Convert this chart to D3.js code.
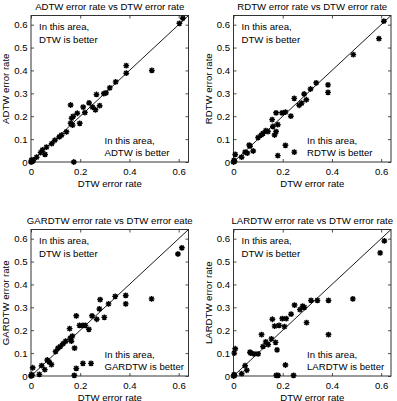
<!DOCTYPE html>
<html><head><meta charset="utf-8">
<script src="https://cdn.jsdelivr.net/npm/d3@7"></script>
<style>body{margin:0;background:#fff}svg{display:block}text{font-family:"Liberation Sans",Arial,sans-serif;fill:#000}</style>
</head><body>
<script>
// ---- data ----
const xTicks = [0, 0.2, 0.4, 0.6];
const yTicks = [0, 0.1, 0.2, 0.3, 0.4, 0.5, 0.6];
const titles = ["ADTW error rate vs DTW error rate","RDTW error rate vs DTW error rate","GARDTW error rate vs DTW error eate","LARDTW error rate vs DTW error rate"];
const yLabels = ["ADTW error rate","RDTW error rate","GARDTW error rate","LARDTW error rate"];
const methods = ["ADTW","RDTW","GARDTW","LARDTW"];
const xLabel = "DTW error rate";

const dtwA = [0,0.004,0.008,0.002,0.174,0.161,0.387,0.387,0.491,0.603,0.617,0.344,0.32,0.296,0.266,0.279,0.236,0.25,0.212,0.219,0.198,0.188,0.171,0.165,0.161,0.169,0.144,0.124,0.115,0.097,0.084,0.063,0.047,0.039,0.057,0.023,0.009,0.305,0.262];
const adtw = [0,0.002,0.006,0.008,0,0.249,0.421,0.388,0.40,0.606,0.628,0.35,0.324,0.299,0.295,0.246,0.258,0.24,0.24,0.216,0.169,0.213,0.199,0.191,0.169,0.161,0.132,0.117,0.11,0.095,0.08,0.065,0.053,0.041,0.033,0.021,0.009,0.302,0.228];

const dtwR = [0,0.004,0.002,0.007,0.033,0.047,0.056,0.067,0.08,0.1,0.113,0.12,0.131,0.14,0.157,0.16,0.167,0.173,0.18,0.173,0.18,0.211,0.247,0.197,0.211,0.233,0.247,0.267,0.277,0.287,0.296,0.313,0.336,0.384,0.384,0.487,0.591,0.611,0.064];
const rdtw = [0,0.003,0.007,0.033,0.021,0.043,0.039,0.069,0.048,0.107,0.118,0.125,0.137,0.133,0.185,0.155,0.118,0.215,0.163,0.133,0.028,0.073,0.043,0.215,0.218,0.2,0.278,0.248,0.257,0.297,0.272,0.319,0.346,0.337,0.304,0.469,0.539,0.615,0.074];

const dtwG = [0,0.004,0.002,0.007,0.034,0.043,0.056,0.066,0.074,0.083,0.1,0.11,0.119,0.13,0.141,0.157,0.16,0.164,0.168,0.177,0.184,0.176,0.184,0.211,0.244,0.197,0.211,0.221,0.235,0.248,0.267,0.278,0.281,0.298,0.315,0.342,0.385,0.385,0.49,0.597,0.613];
const gardtw = [0,0.003,0.006,0.036,0.007,0.045,0.028,0.07,0.062,0.05,0.107,0.122,0.129,0.141,0.152,0.207,0.166,0.152,0.174,0.122,0.263,0.003,0.033,0.055,0.055,0.221,0.221,0.221,0.204,0.263,0.248,0.293,0.334,0.256,0.315,0.348,0.352,0.315,0.337,0.533,0.56];

const dtwL = [0,0.004,0.002,0.003,0.007,0.033,0.047,0.054,0.067,0.07,0.083,0.1,0.114,0.12,0.131,0.141,0.154,0.158,0.167,0.171,0.177,0.185,0.198,0.207,0.214,0.234,0.174,0.181,0.211,0.244,0.248,0.27,0.281,0.288,0.297,0.315,0.341,0.386,0.386,0.485,0.596,0.613];
const lardtw = [0,0.003,0.006,0.1,0.119,0.01,0.045,0.025,0.104,0.1,0.097,0.097,0.181,0.129,0.149,0.137,0.162,0.248,0.218,0.147,0.114,0.221,0.251,0.216,0.251,0.27,0.003,0.003,0.048,0.003,0.31,0.29,0.305,0.3,0.233,0.33,0.33,0.33,0.181,0.337,0.538,0.59];

const MAX = 0.64;
const xs = [dtwA, dtwR, dtwG, dtwL];
const ys = [adtw, rdtw, gardtw, lardtw];

// ---- layout ----
const W = 397, H = 401;
const boxes = [
  {l:31, t:15.5}, {l:233.5, t:15.5}, {l:31, t:229.5}, {l:233.5, t:229.5}
];
const bw = 157.5, bh = 146.5;
const FS = 9.6;

const svg = d3.select("body").append("svg").attr("width", W).attr("height", H);
svg.append("rect").attr("width", W).attr("height", H).attr("fill", "#fff");

const star = "M-2.9,0H2.9M0,-2.9V2.9M-2.1,-2.1L2.1,2.1M-2.1,2.1L2.1,-2.1";
const fmt = v => v === 0 ? "0" : d3.format(".1f")(v);

boxes.forEach((b, i) => {
  const x = d3.scaleLinear([0, MAX], [b.l, b.l + bw]);
  const y = d3.scaleLinear([0, MAX], [b.t + bh, b.t]);
  const g = svg.append("g");

  // axes with inward ticks
  const ax = g.append("g").attr("transform", `translate(0,${b.t + bh})`)
    .call(d3.axisBottom(x).tickValues(xTicks).tickFormat(fmt).tickSizeInner(-3).tickSizeOuter(0).tickPadding(6.5));
  const axT = g.append("g").attr("transform", `translate(0,${b.t})`)
    .call(d3.axisTop(x).tickValues(xTicks).tickFormat("").tickSizeInner(-3).tickSizeOuter(0));
  const ay = g.append("g").attr("transform", `translate(${b.l},0)`)
    .call(d3.axisLeft(y).tickValues(yTicks).tickFormat(fmt).tickSizeInner(-3).tickSizeOuter(0).tickPadding(3.5));
  const ayR = g.append("g").attr("transform", `translate(${b.l + bw},0)`)
    .call(d3.axisRight(y).tickValues(yTicks).tickFormat("").tickSizeInner(-3).tickSizeOuter(0));
  [ax, axT, ay, ayR].forEach(a => {
    a.select(".domain").remove();
    a.selectAll("line").attr("stroke", "#222").attr("stroke-width", 0.8);
    a.selectAll("text").attr("font-size", FS).attr("font-family", '"Liberation Sans",Arial,sans-serif');
  });
  g.append("rect").attr("x", b.l).attr("y", b.t).attr("width", bw).attr("height", bh)
    .attr("fill", "none").attr("stroke", "#333").attr("stroke-width", 1);

  // diagonal
  g.append("line").attr("x1", x(0)).attr("y1", y(0)).attr("x2", x(MAX)).attr("y2", y(MAX))
    .attr("stroke", "#000").attr("stroke-width", 0.9);

  // points
  const pts = xs[i].map((v, k) => [v, ys[i][k]]);
  g.selectAll("path.pt").data(pts).enter().append("path").attr("class", "pt")
    .attr("d", star).attr("transform", d => `translate(${x(d[0])},${y(d[1])})`)
    .attr("stroke", "#000").attr("stroke-width", 1.4).attr("fill", "none");

  // texts
  g.append("text").attr("x", b.l + bw / 2).attr("y", b.t - 6).attr("text-anchor", "middle")
    .attr("font-size", FS).text(titles[i]);
  g.append("text").attr("x", b.l + bw / 2).attr("y", b.t + bh + 24.5).attr("text-anchor", "middle")
    .attr("font-size", FS).text(xLabel);
  g.append("text").attr("transform", `translate(${b.l - 22},${b.t + bh / 2}) rotate(-90)`)
    .attr("text-anchor", "middle").attr("font-size", FS).text(yLabels[i]);

  g.append("text").attr("x", b.l + 8).attr("y", b.t + 14.5).attr("font-size", FS).text("In this area,");
  g.append("text").attr("x", b.l + 8).attr("y", b.t + 27).attr("font-size", FS).text("DTW is better");
  g.append("text").attr("x", b.l + 73.5).attr("y", b.t + bh - 18).attr("font-size", FS).text("In this area,");
  g.append("text").attr("x", b.l + 73.5).attr("y", b.t + bh - 6).attr("font-size", FS).text(methods[i] + " is better");
});
</script>
</body></html>
